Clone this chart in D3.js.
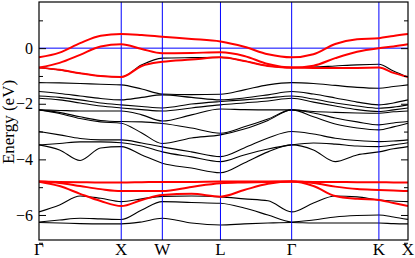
<!DOCTYPE html>
<html>
<head>
<meta charset="utf-8">
<script src="https://cdn.jsdelivr.net/npm/d3@7"></script>
<style>
body { margin: 0; background: #fff; }
svg { display: block; font-family: "Liberation Serif", "Times New Roman", serif; }
</style>
</head>
<body>
<div id="chart"></div>
<script>
// high symmetry points along the path
var kLabels = ["Γ", "X", "W", "L", "Γ", "K", "X"];
var kTicks = [0, 1, 1.5, 2.207, 3.073, 4.134, 4.488];
var kPath = [0, 0.25, 0.5, 0.75, 1, 1.25, 1.5, 1.854, 2.207, 2.496, 2.785, 3.073, 3.338, 3.603, 3.869, 4.134, 4.311, 4.488];
var yMajor = [-6, -4, -2, 0];
var yMinor = [-7, -5, -3, -1, 1];

// bands near the gap (red)
var red1 = [-0.33, -0.16, 0.18, 0.45, 0.51, 0.47, 0.41, 0.33, 0.24, 0.05, -0.22, -0.33, -0.22, 0.15, 0.32, 0.36, 0.44, 0.51];
var red2 = [-0.70, -0.53, -0.24, 0.06, 0.14, -0.03, -0.18, -0.17, -0.15, -0.28, -0.57, -0.70, -0.63, -0.36, -0.13, 0.00, 0.06, 0.14];
var red3 = [-0.70, -0.78, -0.90, -1.00, -1.04, -0.64, -0.49, -0.41, -0.33, -0.46, -0.64, -0.70, -0.71, -0.71, -0.71, -0.70, -0.89, -1.04];
// lower red group
var red4 = [-4.80, -4.81, -4.82, -4.83, -4.83, -4.82, -4.81, -4.81, -4.80, -4.80, -4.80, -4.80, -4.81, -4.81, -4.82, -4.82, -4.83, -4.83];
var red5 = [-4.80, -4.85, -4.96, -5.07, -5.14, -5.14, -5.14, -4.99, -4.86, -4.83, -4.81, -4.80, -4.85, -4.98, -5.07, -5.10, -5.12, -5.14];
var red6 = [-4.80, -4.96, -5.24, -5.50, -5.68, -5.46, -5.28, -5.24, -5.34, -5.10, -4.88, -4.80, -4.96, -5.32, -5.42, -5.46, -5.57, -5.68];

// black bands
var band0 = [-0.70, -0.78, -0.90, -1.00, -1.04, -0.60, -0.36, -0.34, -0.33, -0.46, -0.64, -0.70, -0.68, -0.64, -0.60, -0.58, -0.82, -1.04];
var band1 = [-1.24, -1.25, -1.27, -1.30, -1.32, -1.47, -1.65, -1.67, -1.66, -1.50, -1.32, -1.24, -1.27, -1.34, -1.41, -1.44, -1.38, -1.32];
var band2 = [-1.56, -1.63, -1.72, -1.81, -1.86, -1.77, -1.68, -1.77, -1.86, -1.79, -1.68, -1.56, -1.65, -1.79, -1.94, -2.04, -1.97, -1.86];
var band3 = [-1.72, -1.77, -1.86, -1.97, -2.04, -2.10, -2.15, -2.01, -1.92, -1.86, -1.79, -1.72, -1.83, -1.97, -2.08, -2.16, -2.12, -2.04];
var band4 = [-1.80, -1.86, -1.97, -2.08, -2.15, -2.21, -2.26, -2.15, -2.04, -1.97, -1.90, -1.80, -1.94, -2.08, -2.21, -2.28, -2.22, -2.15];
var band5 = [-2.22, -2.24, -2.26, -2.26, -2.26, -2.40, -2.62, -2.40, -2.19, -2.21, -2.22, -2.22, -2.28, -2.31, -2.33, -2.34, -2.29, -2.26];
var band6 = [-2.22, -2.31, -2.47, -2.60, -2.64, -2.65, -2.71, -2.87, -3.06, -2.83, -2.55, -2.22, -2.33, -2.51, -2.65, -2.76, -2.69, -2.64];
var band7 = [-2.22, -2.35, -2.53, -2.65, -2.70, -3.05, -3.43, -3.23, -3.12, -2.91, -2.60, -2.22, -2.47, -2.73, -2.87, -2.94, -2.83, -2.70];
var band8 = [-3.00, -3.12, -3.25, -3.30, -3.30, -3.41, -3.55, -3.73, -3.90, -3.59, -3.23, -3.00, -3.09, -3.24, -3.32, -3.36, -3.34, -3.30];
var band9 = [-3.48, -3.43, -3.37, -3.37, -3.40, -3.52, -3.73, -3.91, -4.08, -3.84, -3.63, -3.48, -3.41, -3.45, -3.52, -3.54, -3.48, -3.40];
var band10 = [-3.48, -3.66, -4.04, -3.59, -3.54, -3.84, -4.14, -4.31, -4.48, -4.13, -3.73, -3.48, -3.66, -4.08, -3.84, -3.73, -3.62, -3.54];
var band11 = [-5.89, -5.64, -5.32, -5.40, -5.52, -5.42, -5.33, -5.32, -5.35, -5.42, -5.49, -5.89, -5.57, -5.32, -5.35, -5.46, -5.50, -5.52];
var band12 = [-6.25, -6.18, -6.12, -6.14, -6.16, -5.82, -5.52, -5.55, -5.58, -5.75, -6.00, -6.25, -6.18, -6.07, -6.02, -6.00, -6.07, -6.16];
var band13 = [-6.27, -6.29, -6.31, -6.32, -6.32, -6.25, -6.12, -6.29, -6.36, -6.32, -6.29, -6.27, -6.29, -6.29, -6.29, -6.29, -6.31, -6.32];

var blackBands = [band0, band1, band2, band3, band4, band5, band6, band7, band8, band9, band10, band11, band12, band13];
var redBands = [red1, red2, red3, red4, red5, red6];

var W = 415, H = 258;
var padL = 39, padR = 408, padT = 2, padB = 240;

var svg = d3.select("#chart").append("svg")
    .attr("width", W)
    .attr("height", H);

var x = d3.scaleLinear()
    .domain([0, 4.488])
    .range([padL, padR]);

var y = d3.scaleLinear()
    .domain([-6.9, 1.66])
    .range([padB, padT]);

var line = d3.line()
    .x(function (d, i) { return x(kPath[i]); })
    .y(function (d) { return y(d); })
    .curve(d3.curveMonotoneX);

svg.append("clipPath").attr("id", "clip")
    .append("rect")
    .attr("x", padL).attr("y", padT)
    .attr("width", padR - padL).attr("height", padB - padT);

var plot = svg.append("g").attr("clip-path", "url(#clip)");

plot.selectAll(".black")
    .data(blackBands)
    .enter().append("path")
    .attr("class", "black")
    .attr("fill", "none")
    .attr("stroke", "#000")
    .attr("stroke-width", 1.1)
    .attr("d", line);

// symmetry lines and Fermi level
plot.selectAll(".sym")
    .data(kTicks.slice(1, -1))
    .enter().append("line")
    .attr("class", "sym")
    .attr("x1", function (d) { return x(d); })
    .attr("x2", function (d) { return x(d); })
    .attr("y1", padT).attr("y2", padB)
    .attr("stroke", "#0000ff")
    .attr("stroke-width", 1);

plot.append("line")
    .attr("x1", padL).attr("x2", padR)
    .attr("y1", y(0)).attr("y2", y(0))
    .attr("stroke", "#0000ff")
    .attr("stroke-width", 1);

plot.selectAll(".red")
    .data(redBands)
    .enter().append("path")
    .attr("class", "red")
    .attr("fill", "none")
    .attr("stroke", "#ff0000")
    .attr("stroke-width", 2)
    .attr("d", line);

// axes, ticks pointing inward
var yAxis = svg.append("g")
    .attr("transform", "translate(" + padL + ",0)")
    .call(d3.axisLeft(y).tickValues(yMajor).tickSize(-7).tickPadding(6).tickFormat(d3.format("d")));
yAxis.select(".domain").remove();
yAxis.selectAll("text").style("font-size", "16px").style("font-family", "Liberation Serif");

var yMin = svg.append("g")
    .attr("transform", "translate(" + padL + ",0)")
    .call(d3.axisLeft(y).tickValues(yMinor).tickSize(-4).tickFormat(""));
yMin.select(".domain").remove();

var yR = svg.append("g")
    .attr("transform", "translate(" + padR + ",0)")
    .call(d3.axisRight(y).tickValues(yMajor).tickSize(-7).tickFormat(""));
yR.select(".domain").remove();

var yRm = svg.append("g")
    .attr("transform", "translate(" + padR + ",0)")
    .call(d3.axisRight(y).tickValues(yMinor).tickSize(-4).tickFormat(""));
yRm.select(".domain").remove();

svg.selectAll(".tick line").attr("stroke", "#000").attr("stroke-width", 1);

svg.append("rect")
    .attr("x", padL).attr("y", padT)
    .attr("width", padR - padL).attr("height", padB - padT)
    .attr("fill", "none")
    .attr("stroke", "#000")
    .attr("stroke-width", 1.2);

svg.selectAll(".klab")
    .data(kTicks)
    .enter().append("text")
    .attr("class", "klab")
    .attr("x", function (d) { return x(d); })
    .attr("y", 255)
    .attr("text-anchor", "middle")
    .style("font-size", "17px")
    .text(function (d, i) { return kLabels[i]; });

svg.append("text")
    .attr("transform", "translate(14,122) rotate(-90)")
    .attr("text-anchor", "middle")
    .style("font-size", "17px")
    .text("Energy (eV)");
</script>
</body>
</html>
